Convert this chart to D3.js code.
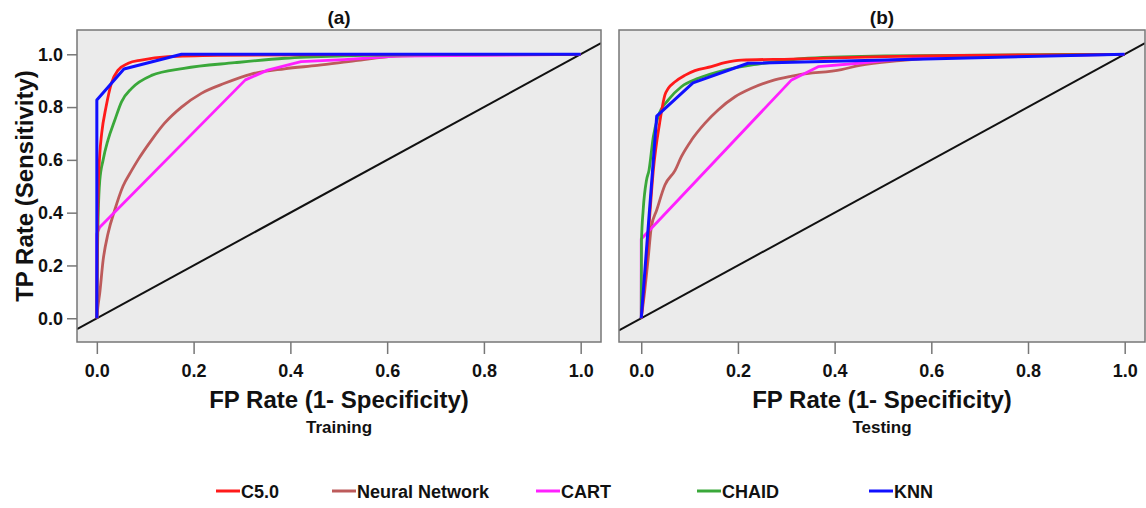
<!DOCTYPE html>
<html>
<head>
<meta charset="utf-8">
<script src="https://cdn.jsdelivr.net/npm/d3@7"></script>
<style>
  body { margin: 0; background: #fff; }
  svg text { font-family: "Liberation Sans", Arial, sans-serif; font-weight: bold; fill: #111; }
</style>
</head>
<body>
<div id="chart"></div>
<script>
// ROC points: [FP rate, TP rate]
const modelNames = ["C5.0", "Neural Network", "CART", "CHAID", "KNN"];
const modelColors = ["#ff1a1a", "#bd5b5b", "#ff20ff", "#3aa83a", "#1010ff"];
const smoothModel = [true, true, false, true, false];
const panelTitles = ["(a)", "(b)"];
const panelSubtitles = ["Training", "Testing"];
const tickValues = [0, 0.2, 0.4, 0.6, 0.8, 1.0];

const trainC50 = [[0,0],[0.001,0.3],[0.003,0.5],[0.006,0.62],[0.01,0.7],[0.019,0.8],[0.03,0.89],[0.044,0.94],[0.065,0.966],[0.092,0.978],[0.147,0.991],[0.25,0.996],[0.5,0.999],[1,1]];
const trainNN = [[0,0],[0.002,0.04],[0.006,0.095],[0.013,0.22],[0.023,0.32],[0.037,0.41],[0.054,0.5],[0.072,0.56],[0.085,0.6],[0.113,0.675],[0.14,0.739],[0.175,0.8],[0.216,0.852],[0.264,0.89],[0.319,0.925],[0.388,0.945],[0.456,0.958],[0.535,0.976],[0.618,0.993],[0.75,0.998],[1,1]];
const trainCART = [[0,0],[0,0.32],[0.006,0.345],[0.307,0.903],[0.353,0.94],[0.422,0.972],[0.511,0.98],[0.618,0.993],[1,1]];
const trainCHAID = [[0,0],[0.001,0.2],[0.003,0.4],[0.006,0.52],[0.013,0.6],[0.023,0.675],[0.037,0.75],[0.051,0.82],[0.072,0.871],[0.113,0.92],[0.18,0.947],[0.285,0.968],[0.388,0.985],[0.511,0.994],[0.7,0.999],[1,1]];
const trainKNN = [[0,0],[0,0.827],[0.056,0.944],[0.175,1.0],[1,1]];

const testC50 = [[0,0],[0.01,0.2],[0.018,0.4],[0.025,0.56],[0.038,0.739],[0.049,0.846],[0.056,0.871],[0.07,0.896],[0.09,0.92],[0.111,0.938],[0.145,0.953],[0.173,0.968],[0.207,0.978],[0.311,0.982],[0.504,0.991],[1,1]];
const testNN = [[0,0],[0.007,0.1],[0.014,0.22],[0.021,0.347],[0.032,0.41],[0.049,0.505],[0.07,0.56],[0.083,0.612],[0.104,0.675],[0.132,0.739],[0.159,0.789],[0.194,0.839],[0.228,0.871],[0.276,0.903],[0.325,0.922],[0.414,0.942],[0.452,0.958],[0.535,0.976],[0.65,0.99],[1,1]];
const testCART = [[0,0],[0,0.3],[0.311,0.903],[0.366,0.953],[0.449,0.966],[0.504,0.976],[0.6,0.99],[1,1]];
const testCHAID = [[0,0],[0.0005,0.29],[0.004,0.41],[0.011,0.524],[0.016,0.56],[0.025,0.688],[0.035,0.764],[0.056,0.827],[0.083,0.877],[0.118,0.909],[0.173,0.94],[0.242,0.963],[0.345,0.985],[0.504,0.994],[1,1]];
const testKNN = [[0,0],[0.032,0.766],[0.107,0.892],[0.221,0.966],[1,1]];

const trainSeries = [trainC50, trainNN, trainCART, trainCHAID, trainKNN];
const testSeries = [testC50, testNN, testCART, testCHAID, testKNN];

// drawing order: NN, CART, CHAID, C5.0, KNN on top
const drawOrder = [1, 2, 3, 0, 4];

const W = 1146, H = 508;
const svg = d3.select("#chart").append("svg")
  .attr("width", W)
  .attr("height", H);

const panels = [
  { series: trainSeries, left: 77, right: 601, xDomain: [-0.041, 1.042] },
  { series: testSeries, left: 619, right: 1145, xDomain: [-0.046, 1.042] }
];
const plotTop = 30, plotBottom = 342;

panels.forEach((p, i) => {
  const x = d3.scaleLinear().domain(p.xDomain).range([p.left, p.right]);
  const y = d3.scaleLinear().domain([-0.09, 1.092]).range([plotBottom, plotTop]);
  const clipId = "clip" + i;

  svg.append("clipPath").attr("id", clipId)
    .append("rect")
    .attr("x", p.left).attr("y", plotTop)
    .attr("width", p.right - p.left).attr("height", plotBottom - plotTop);

  // plot background
  svg.append("rect")
    .attr("x", p.left).attr("y", plotTop)
    .attr("width", p.right - p.left).attr("height", plotBottom - plotTop)
    .attr("fill", "#ebebeb");

  const g = svg.append("g").attr("clip-path", `url(#${clipId})`);

  const line = d3.line().x(d => x(d[0])).y(d => y(d[1]));
  const smoothLine = d3.line().x(d => x(d[0])).y(d => y(d[1])).curve(d3.curveMonotoneX);

  // reference diagonal
  g.append("path")
    .datum(p.xDomain.map(v => [v, v]))
    .attr("fill", "none")
    .attr("stroke", "#111")
    .attr("stroke-width", 2)
    .attr("d", line);

  drawOrder.forEach(k => {
    g.append("path")
      .datum(p.series[k])
      .attr("fill", "none")
      .attr("stroke", modelColors[k])
      .attr("stroke-width", k === 4 ? 3 : 2.8)
      .attr("stroke-linejoin", "round")
      .attr("d", smoothModel[k] ? smoothLine : line);
  });

  // frame
  svg.append("rect")
    .attr("x", p.left).attr("y", plotTop)
    .attr("width", p.right - p.left).attr("height", plotBottom - plotTop)
    .attr("fill", "none")
    .attr("stroke", "#777")
    .attr("stroke-width", 1.5);

  // axes
  const xAxis = svg.append("g")
    .attr("transform", `translate(0,${plotBottom})`)
    .call(d3.axisBottom(x).tickValues(tickValues).tickFormat(d3.format(".1f"))
      .tickSize(12).tickSizeOuter(0).tickPadding(10));
  xAxis.select(".domain").remove();
  xAxis.selectAll("line").attr("stroke", "#777").attr("stroke-width", 1.5);
  xAxis.selectAll("text").style("font-size", "18px").attr("fill", "#111");

  if (i === 0) {
    const yAxis = svg.append("g")
      .attr("transform", `translate(${p.left},0)`)
      .call(d3.axisLeft(y).tickValues(tickValues).tickFormat(d3.format(".1f"))
        .tickSize(10).tickSizeOuter(0).tickPadding(4));
    yAxis.select(".domain").remove();
    yAxis.selectAll("line").attr("stroke", "#777").attr("stroke-width", 1.5);
    yAxis.selectAll("text").style("font-size", "18px").attr("fill", "#111");

    svg.append("text")
      .attr("transform", `translate(33,${(plotTop + plotBottom) / 2}) rotate(-90)`)
      .attr("text-anchor", "middle")
      .style("font-size", "24px")
      .text("TP Rate (Sensitivity)");
  }

  const cx = (p.left + p.right) / 2;
  svg.append("text")
    .attr("x", cx).attr("y", 24)
    .attr("text-anchor", "middle")
    .style("font-size", "19px")
    .text(panelTitles[i]);

  svg.append("text")
    .attr("x", cx).attr("y", 408)
    .attr("text-anchor", "middle")
    .style("font-size", "24px")
    .text("FP Rate (1- Specificity)");

  svg.append("text")
    .attr("x", cx).attr("y", 433)
    .attr("text-anchor", "middle")
    .style("font-size", "17px")
    .text(panelSubtitles[i]);
});

// legend
const legendX = [216, 332, 536, 697, 869];
const legend = svg.append("g");
modelNames.forEach((name, k) => {
  legend.append("line")
    .attr("x1", legendX[k]).attr("x2", legendX[k] + 24)
    .attr("y1", 491).attr("y2", 491)
    .attr("stroke", modelColors[k])
    .attr("stroke-width", 3);
  legend.append("text")
    .attr("x", legendX[k] + 25).attr("y", 498)
    .style("font-size", "18px")
    .text(name);
});
</script>
</body>
</html>
